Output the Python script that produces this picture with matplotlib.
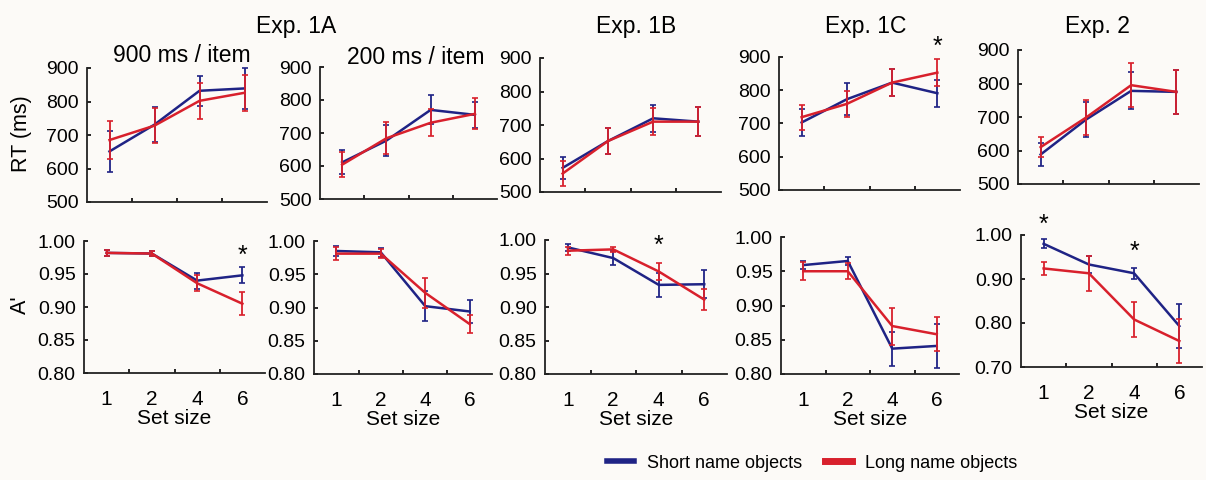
import matplotlib
matplotlib.use("Agg")
import matplotlib.pyplot as plt
from matplotlib.lines import Line2D

plt.rcParams['font.family'] = ['Liberation Sans', 'DejaVu Sans']

set_sizes = ['1', '2', '4', '6']
exp_titles = ['Exp. 1A', 'Exp. 1B', 'Exp. 1C', 'Exp. 2']
sub_titles = ['900 ms / item', '200 ms / item']

# RT (ms), one row per panel: 1A-900, 1A-200, 1B, 1C, 2
rt_short = [
    [651, 731, 832, 839],
    [611, 677, 770, 755],
    [572, 652, 720, 710],
    [703, 773, 823, 791],
    [588, 692, 778, 775],
]
rt_short_err = [
    [60, 53, 45, 60],
    [36, 48, 44, 40],
    [33, 39, 41, 43],
    [40, 48, 40, 40],
    [33, 52, 55, 65],
]
rt_long = [
    [685, 728, 802, 826],
    [604, 684, 731, 758],
    [555, 652, 710, 710],
    [719, 759, 823, 853],
    [610, 698, 795, 775],
]
rt_long_err = [
    [57, 53, 53, 53],
    [38, 48, 41, 47],
    [38, 39, 41, 43],
    [38, 40, 40, 40],
    [30, 52, 65, 65],
]

# A'
a_short = [
    [0.982, 0.981, 0.940, 0.948],
    [0.985, 0.983, 0.902, 0.894],
    [0.989, 0.973, 0.933, 0.934],
    [0.959, 0.965, 0.837, 0.841],
    [0.980, 0.933, 0.913, 0.793],
]
a_short_err = [
    [0.004, 0.004, 0.012, 0.012],
    [0.008, 0.007, 0.023, 0.018],
    [0.005, 0.010, 0.018, 0.021],
    [0.006, 0.006, 0.025, 0.032],
    [0.010, 0.020, 0.013, 0.050],
]
a_long = [
    [0.982, 0.981, 0.936, 0.905],
    [0.981, 0.981, 0.922, 0.875],
    [0.984, 0.986, 0.953, 0.911],
    [0.950, 0.950, 0.870, 0.858],
    [0.924, 0.913, 0.808, 0.759],
]
a_long_err = [
    [0.004, 0.004, 0.012, 0.017],
    [0.010, 0.007, 0.023, 0.013],
    [0.006, 0.004, 0.013, 0.016],
    [0.013, 0.012, 0.027, 0.025],
    [0.015, 0.040, 0.040, 0.050],
]

# significance stars: (row, panel, set-size index, y)
stars = [(1, 0, 3, 0.978), (1, 2, 2, 0.991), (0, 3, 3, 930),
         (1, 4, 0, 1.023), (1, 4, 2, 0.961)]

BLUE = '#1f2385'
RED = '#d8202c'
BG = '#fcfaf7'
W, H = 1206, 480

# axes boxes in pixels: x0, y_top, x1, y_bottom
top_boxes = [(87, 68, 267, 202), (320, 67, 497, 199), (540, 58, 721, 192),
             (779, 57, 960, 190), (1018, 50, 1199, 184)]
bot_boxes = [(84, 241, 265, 373), (314, 241, 492, 374), (545, 240, 727, 374),
             (781, 237, 959, 374), (1021, 235, 1202, 367)]

fig = plt.figure(figsize=(W / 100, H / 100), dpi=100, facecolor=BG)


def make_ax(box):
    x0, yt, x1, yb = box
    ax = fig.add_axes([x0 / W, 1 - yb / H, (x1 - x0) / W, (yb - yt) / H])
    ax.set_facecolor('none')
    for s in ['top', 'right']:
        ax.spines[s].set_visible(False)
    for s in ['left', 'bottom']:
        ax.spines[s].set_linewidth(1.3)
        ax.spines[s].set_color('#222222')
    ax.set_xlim(0.5, 4.5)
    ax.set_xticks(range(1, 5))
    ax.set_xticks([1.5, 2.5, 3.5], minor=True)
    ax.tick_params(axis='x', which='major', length=0, labelsize=15, pad=12)
    ax.tick_params(axis='x', which='minor', direction='in', length=3, width=1.2)
    ax.tick_params(axis='y', direction='in', length=3, width=1.2, labelsize=14, pad=6)
    return ax


def draw(ax, s, se, l, le):
    x = list(range(1, 5))
    ax.errorbar(x, s, yerr=se, color=BLUE, lw=1.8, elinewidth=1.3, capsize=2.5,
                capthick=1.2, clip_on=False, zorder=3)
    ax.errorbar(x, l, yerr=le, color=RED, lw=1.8, elinewidth=1.3, capsize=2.5,
                capthick=1.2, clip_on=False, zorder=4)


top_axes, bot_axes = [], []
for i in range(5):
    ax = make_ax(top_boxes[i])
    draw(ax, rt_short[i], rt_short_err[i], rt_long[i], rt_long_err[i])
    ax.set_ylim(500, 900)
    ax.set_yticks([500, 600, 700, 800, 900])
    ax.set_xticklabels([])
    top_axes.append(ax)

    ax = make_ax(bot_boxes[i])
    draw(ax, a_short[i], a_short_err[i], a_long[i], a_long_err[i])
    if i == 4:
        ax.set_ylim(0.70, 1.00)
        ax.set_yticks([0.70, 0.80, 0.90, 1.00])
    else:
        ax.set_ylim(0.80, 1.00)
        ax.set_yticks([0.80, 0.85, 0.90, 0.95, 1.00])
    ax.set_yticklabels(['%.2f' % v for v in ax.get_yticks()])
    ax.set_xticklabels(set_sizes)
    ax.set_xlabel('Set size', fontsize=15, labelpad=0.5)
    bot_axes.append(ax)

for row, p, k, y in stars:
    ax = (top_axes, bot_axes)[row][p]
    ax.text(k + 1, y, '*', fontsize=18, ha='center', va='center', clip_on=False)

# titles
title_x = [296, 636, 866, 1097]
for t, xp in zip(exp_titles, title_x):
    fig.text(xp / W, 1 - 26 / H, t, fontsize=16.5, ha='center', va='center')
fig.text(182 / W, 1 - 56 / H, sub_titles[0], fontsize=16.5, ha='center', va='center')
fig.text(416 / W, 1 - 57 / H, sub_titles[1], fontsize=16.5, ha='center', va='center')

fig.text(22 / W, 1 - 134 / H, 'RT (ms)', fontsize=15.5, rotation=90, ha='center', va='center')
fig.text(20 / W, 1 - 305 / H, "A'", fontsize=15.5, rotation=90, ha='center', va='center')

handles = [Line2D([], [], color=BLUE, lw=4), Line2D([], [], color=RED, lw=5)]
fig.legend(handles, ['Short name objects', 'Long name objects'], loc='center',
           bbox_to_anchor=(812 / W, 1 - 463 / H), ncol=2, frameon=False,
           fontsize=13, handlelength=1.5, handletextpad=0.7, columnspacing=1.3)

fig.savefig('out.png', dpi=100, facecolor=BG)
